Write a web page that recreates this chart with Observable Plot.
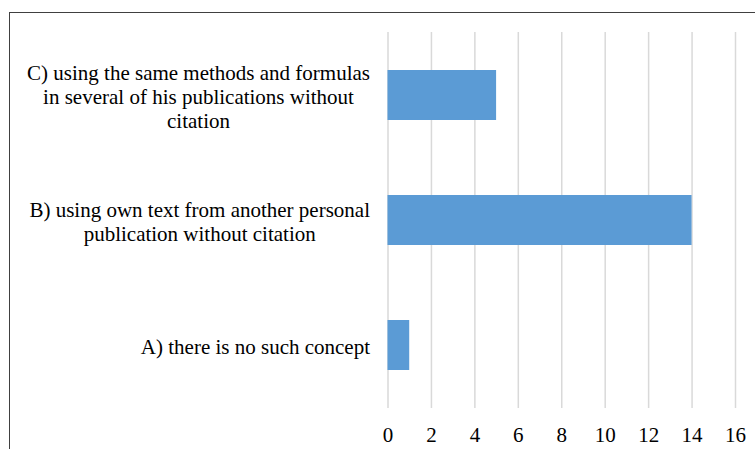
<!DOCTYPE html>
<html>
<head>
<meta charset="utf-8">
<script src="https://cdn.jsdelivr.net/npm/d3@7"></script>
<script src="https://cdn.jsdelivr.net/npm/@observablehq/plot@0.6"></script>
<style>
  html, body { margin: 0; padding: 0; background: #fff; }
  #wrap { position: relative; width: 755px; height: 449px; overflow: hidden; }
  #frame {
    position: absolute; left: 9px; top: 12px; right: -4px; bottom: -4px;
    border-top: 1.4px solid #404040; border-left: 1.4px solid #404040;
    pointer-events: none;
  }
  #wrap svg text { font-family: "Liberation Serif", "Times New Roman", serif; }
</style>
</head>
<body>
<div id="wrap"><div id="frame"></div></div>
<script>
// Survey answers: how respondents define self-plagiarism
const categories = ["C", "B", "A"];
const labelLines = [
  ["C) using the same methods and formulas", "in several of his publications without", "citation"],
  ["B) using own text from another personal", "publication without citation"],
  ["A) there is no such concept"]
];
const counts = [5, 14, 1];
const xTicks = [0, 2, 4, 6, 8, 10, 12, 14, 16];

const fontFamily = "'Liberation Serif', 'Times New Roman', serif";
const fontSize = 21;
const labelGap = 18;

const data = categories.map((c, i) => ({ cat: c, value: counts[i] }));

// measure each label block so multi-line labels sit centred, flush to the axis
const ctx = document.createElement("canvas").getContext("2d");
ctx.font = `${fontSize}px ${fontFamily}`;
const blockWidth = labelLines.map(lines => d3.max(lines, l => ctx.measureText(l).width));

const labelMarks = categories.map((c, i) =>
  Plot.text([{ cat: c, text: labelLines[i].join("\n") }], {
    y: "cat",
    text: "text",
    frameAnchor: "left",
    textAnchor: "middle",
    lineAnchor: "middle",
    lineHeight: 1.15,
    dx: -(labelGap + blockWidth[i] / 2),
    dy: 1,
    fill: "#000",
    fontSize: fontSize,
    fontFamily: fontFamily
  })
);

const chart = Plot.plot({
  width: 755,
  height: 449,
  marginTop: 32,
  marginBottom: 41,
  marginLeft: 387.5,
  marginRight: 20,
  style: { fontFamily, fontSize: `${fontSize}px`, color: "#000", background: "transparent" },
  x: { domain: [0, 16], axis: null, label: null },
  y: { domain: categories, paddingInner: 0.6, paddingOuter: 0.3, axis: null },
  marks: [
    Plot.gridX(xTicks, { stroke: "#d9d9d9", strokeOpacity: 1, strokeWidth: 1.5 }),
    Plot.barX(data, { x: "value", y: "cat", fill: "#5b9bd5" }),
    Plot.axisX(xTicks, { tickSize: 0, tickPadding: 19, fontSize: fontSize, fontFamily: fontFamily, fill: "#000", label: null, tickFormat: d => String(d) }),
    ...labelMarks
  ]
});

document.getElementById("wrap").prepend(chart);
</script>
</body>
</html>
